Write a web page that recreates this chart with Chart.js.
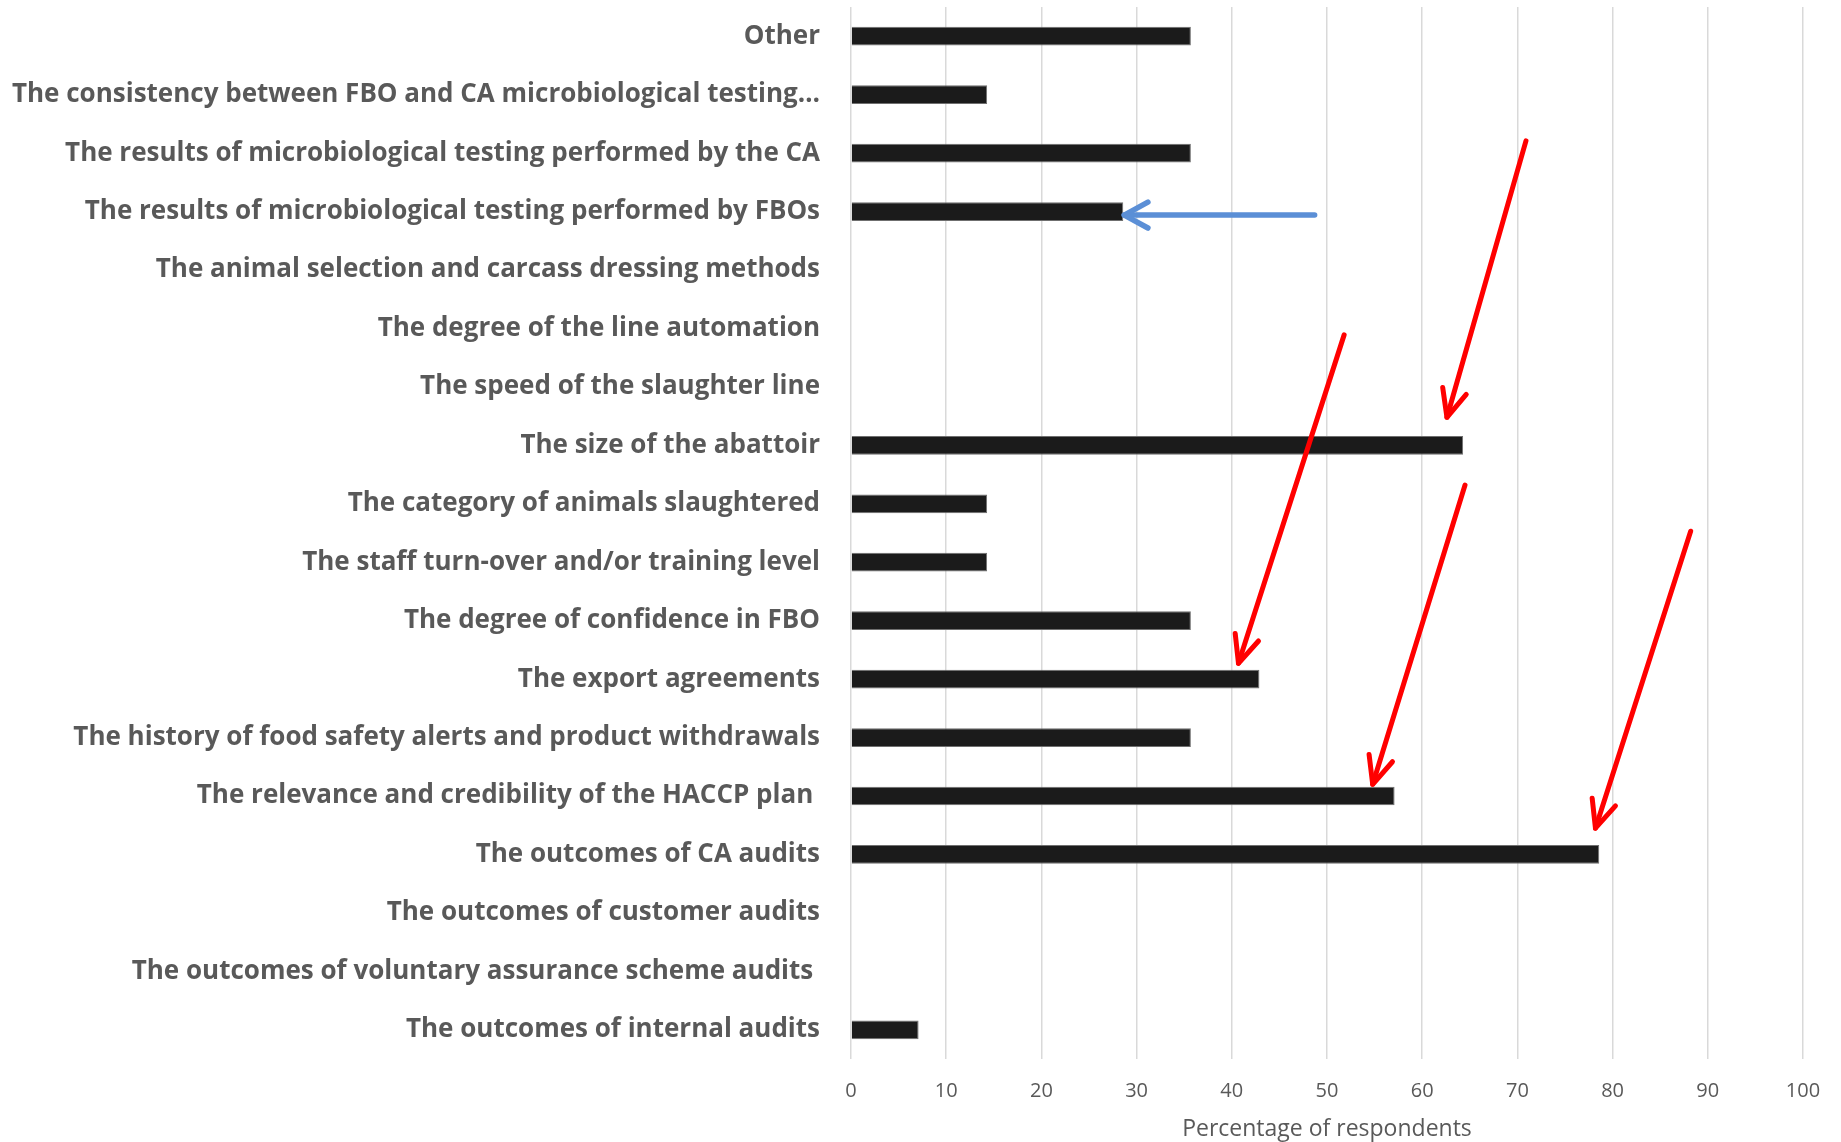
<!DOCTYPE html>
<html>
<head>
<meta charset="utf-8">
<script src="https://cdn.jsdelivr.net/npm/chart.js@4.4.0/dist/chart.umd.min.js"></script>
<style>
    html, body { margin: 0; padding: 0; background: #fff; }
    #wrap { width: 1841px; height: 1142px; }
</style>
</head>
<body>
<div id="wrap"><canvas id="factorChart" width="1841" height="1142"></canvas></div>
<script>
// categories, top to bottom
const factors = [
    'Other',
    'The consistency between FBO and CA microbiological testing\u2026',
    'The results of microbiological testing performed by the CA',
    'The results of microbiological testing performed by FBOs',
    'The animal selection and carcass dressing methods',
    'The degree of the line automation',
    'The speed of the slaughter line',
    'The size of the abattoir',
    'The category of animals slaughtered',
    'The staff turn-over and/or training level',
    'The degree of confidence in FBO',
    'The export agreements',
    'The history of food safety alerts and product withdrawals',
    'The relevance and credibility of the HACCP plan ',
    'The outcomes of CA audits',
    'The outcomes of customer audits',
    'The outcomes of voluntary assurance scheme audits ',
    'The outcomes of internal audits'
];

// percentage of respondents
const percentages = [35.7, 14.3, 35.7, 28.6, 0, 0, 0, 64.3, 14.3, 14.3, 35.7, 42.9, 35.7, 57.1, 78.6, 0, 0, 7.1];

const xTicks = [0, 10, 20, 30, 40, 50, 60, 70, 80, 90, 100];

// hand drawn arrows on top of the chart: [value, category index]
const redArrowFrom = [[70.9, 1.79], [51.8, 5.11], [64.5, 7.68], [88.2, 8.47]];
const redArrowTo   = [[62.6, 6.52], [40.7, 10.73], [54.8, 12.8], [78.2, 13.55]];
const blueArrowFrom = [[48.7, 3.06]];
const blueArrowTo   = [[28.7, 3.06]];

function drawArrow(ctx, x1, y1, x2, y2, color, width, headLen, headAngle) {
    const ang = Math.atan2(y1 - y2, x1 - x2);
    ctx.save();
    ctx.strokeStyle = color;
    ctx.lineWidth = width;
    ctx.lineCap = 'round';
    ctx.lineJoin = 'round';
    ctx.beginPath();
    ctx.moveTo(x1, y1);
    ctx.lineTo(x2, y2);
    ctx.stroke();
    ctx.beginPath();
    ctx.moveTo(x2 + headLen * Math.cos(ang - headAngle), y2 + headLen * Math.sin(ang - headAngle));
    ctx.lineTo(x2, y2);
    ctx.lineTo(x2 + headLen * Math.cos(ang + headAngle), y2 + headLen * Math.sin(ang + headAngle));
    ctx.stroke();
    ctx.restore();
}

const arrowPlugin = {
    id: 'arrows',
    afterDatasetsDraw(chart) {
        const ctx = chart.ctx;
        const xs = chart.scales.x;
        const ys = chart.scales.y;
        for (let i = 0; i < redArrowFrom.length; i++) {
            drawArrow(ctx,
                xs.getPixelForValue(redArrowFrom[i][0]), ys.getPixelForValue(redArrowFrom[i][1]),
                xs.getPixelForValue(redArrowTo[i][0]), ys.getPixelForValue(redArrowTo[i][1]),
                '#ff0000', 5, 30, 0.42);
        }
        for (let i = 0; i < blueArrowFrom.length; i++) {
            drawArrow(ctx,
                xs.getPixelForValue(blueArrowFrom[i][0]), ys.getPixelForValue(blueArrowFrom[i][1]),
                xs.getPixelForValue(blueArrowTo[i][0]), ys.getPixelForValue(blueArrowTo[i][1]),
                '#5b8fd6', 5.5, 27, 0.5);
        }
    }
};

const grey = '#595959';

const config = {
    type: 'bar',
    data: {
        labels: factors,
        datasets: [{
            data: percentages,
            backgroundColor: '#1b1b1b',
            borderColor: '#6f6f6f',
            borderWidth: 1,
            categoryPercentage: 1,
            barPercentage: 0.32
        }]
    },
    options: {
        indexAxis: 'y',
        responsive: false,
        animation: false,
        layout: { padding: { top: 7, right: 38, bottom: 0, left: 0 } },
        plugins: {
            legend: { display: false },
            tooltip: { enabled: false }
        },
        scales: {
            x: {
                min: 0,
                max: 100,
                afterBuildTicks(scale) {
                    scale.ticks = xTicks.map(v => ({ value: v }));
                },
                afterFit(scale) {
                    scale.height = 83;
                },
                grid: { color: '#d9d9d9', lineWidth: 1.5, drawTicks: false },
                border: { display: false },
                ticks: {
                    color: grey,
                    padding: 20,
                    maxRotation: 0,
                    font: { family: 'Open Sans', size: 20, lineHeight: 1.2 }
                },
                title: {
                    display: true,
                    text: 'Percentage of respondents',
                    color: grey,
                    padding: { top: 13, bottom: 0 },
                    font: { family: 'Open Sans', size: 23, lineHeight: 1.1 }
                }
            },
            y: {
                afterFit(scale) {
                    scale.width = 851;
                    scale.paddingTop = 0;
                    scale.paddingBottom = 0;
                },
                grid: { display: false, drawTicks: false },
                border: { display: false },
                ticks: {
                    autoSkip: false,
                    color: grey,
                    padding: 31,
                    font: { family: 'Open Sans', size: 26, weight: 'bold' }
                }
            }
        }
    },
    plugins: [arrowPlugin]
};

const myFactorChart = new Chart(document.getElementById('factorChart'), config);
</script>
</body>
</html>
